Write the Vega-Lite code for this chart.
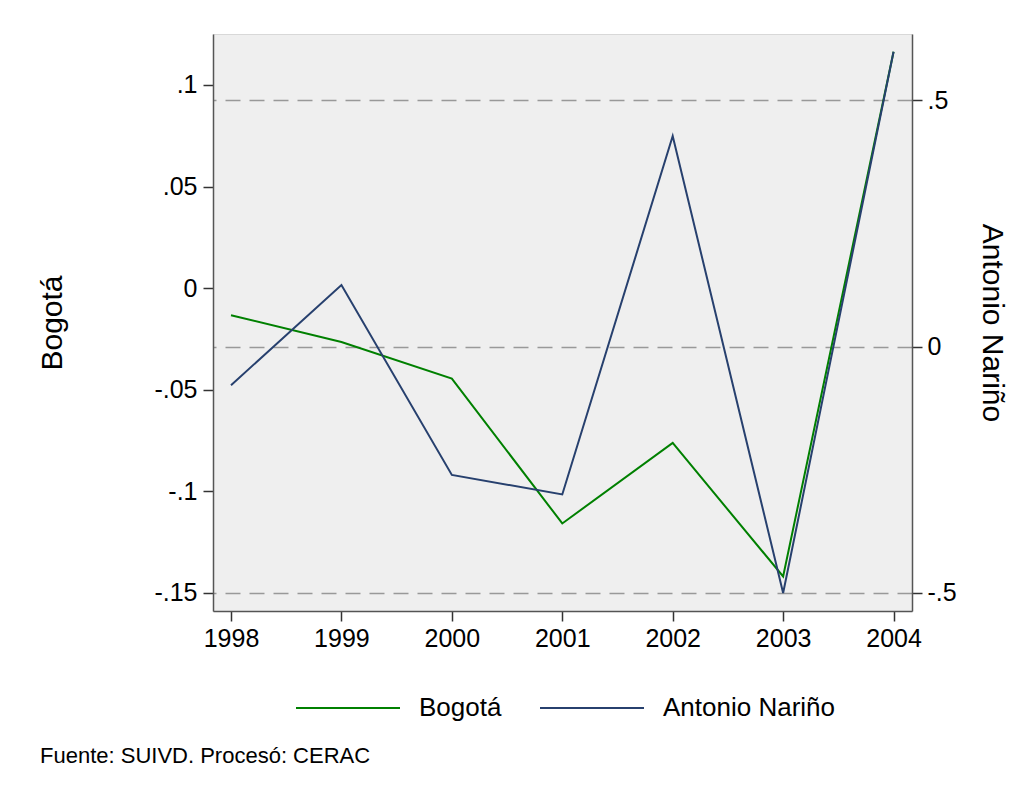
{
  "$schema": "https://vega.github.io/schema/vega-lite/v6.json",
  "width": 699,
  "height": 577,
  "autosize": "none",
  "padding": {"left": 213, "top": 34, "right": 121, "bottom": 184},
  "background": "white",
  "config": {
    "font": "Liberation Sans",
    "view": {"fill": "#efefef", "stroke": "#d8d8d8"},
    "axis": {"labelColor": "black", "titleColor": "black", "tickColor": "#333", "domainColor": "#555", "tickSize": 10, "domainWidth": 1.5, "tickWidth": 1.5, "labelFontSize": 25, "titleFontSize": 30, "titleFontWeight": "normal"}
  },
  "title": {"text": "Fuente: SUIVD. Procesó: CERAC", "orient": "bottom", "anchor": "start", "frame": "group", "fontSize": 22, "fontWeight": "normal", "color": "black", "dx": -173, "offset": 25},
  "data": {"values": [
    {"year": 1998, "series": "Bogotá", "value": -0.0133},
    {"year": 1999, "series": "Bogotá", "value": -0.0265},
    {"year": 2000, "series": "Bogotá", "value": -0.0445},
    {"year": 2001, "series": "Bogotá", "value": -0.1158},
    {"year": 2002, "series": "Bogotá", "value": -0.0762},
    {"year": 2003, "series": "Bogotá", "value": -0.1419},
    {"year": 2004, "series": "Bogotá", "value": 0.1164},
    {"year": 1998, "series": "Antonio Nariño", "value": -0.0782},
    {"year": 1999, "series": "Antonio Nariño", "value": 0.1249},
    {"year": 2000, "series": "Antonio Nariño", "value": -0.2604},
    {"year": 2001, "series": "Antonio Nariño", "value": -0.3},
    {"year": 2002, "series": "Antonio Nariño", "value": 0.4275},
    {"year": 2003, "series": "Antonio Nariño", "value": -0.5},
    {"year": 2004, "series": "Antonio Nariño", "value": 0.5987}
  ]},
  "encoding": {
    "x": {"field": "year", "type": "quantitative", "scale": {"domain": [1997.837, 2004.167], "nice": false, "zero": false},
      "axis": {"values": [1998, 1999, 2000, 2001, 2002, 2003, 2004], "format": "d", "grid": false, "title": null, "labelPadding": 5}},
    "color": {"field": "series", "type": "nominal", "scale": {"domain": ["Bogotá", "Antonio Nariño"], "range": ["#008000", "#27406e"]},
      "legend": {"orient": "none", "legendX": 82, "legendY": 621, "direction": "horizontal", "title": null, "symbolType": "stroke", "symbolSize": 10816, "symbolStrokeWidth": 2, "labelFontSize": 26, "labelLimit": 400, "labelOffset": 18, "columnPadding": 34, "labelColor": "black"}}
  },
  "layer": [
    {
      "transform": [{"filter": "datum.series == 'Bogotá'"}],
      "mark": {"type": "line", "strokeWidth": 2},
      "encoding": {
        "y": {"field": "value", "type": "quantitative", "scale": {"domain": [-0.1589, 0.1251], "nice": false, "zero": false},
          "axis": {"orient": "left", "title": "Bogotá", "values": [-0.15, -0.1, -0.05, 0, 0.05, 0.1], "grid": false, "labelPadding": 6, "titlePadding": 86,
            "labelExpr": "datum.value == 0 ? '0' : (datum.value < 0 ? '-' : '') + substring(format(abs(datum.value), ''), 1)"}}
      }
    },
    {
      "transform": [{"filter": "datum.series == 'Antonio Nariño'"}],
      "mark": {"type": "line", "strokeWidth": 2},
      "encoding": {
        "y": {"field": "value", "type": "quantitative", "scale": {"domain": [-0.5366, 0.6346], "nice": false, "zero": false},
          "axis": {"orient": "right", "title": "Antonio Nariño", "values": [-0.5, 0, 0.5], "grid": true, "gridDash": [15, 9], "gridColor": "#999", "gridWidth": 1.5, "labelPadding": 5, "titlePadding": 20,
            "labelExpr": "datum.value == 0 ? '0' : (datum.value < 0 ? '-' : '') + substring(format(abs(datum.value), ''), 1)"}}
      }
    }
  ],
  "resolve": {"scale": {"y": "independent"}}
}
